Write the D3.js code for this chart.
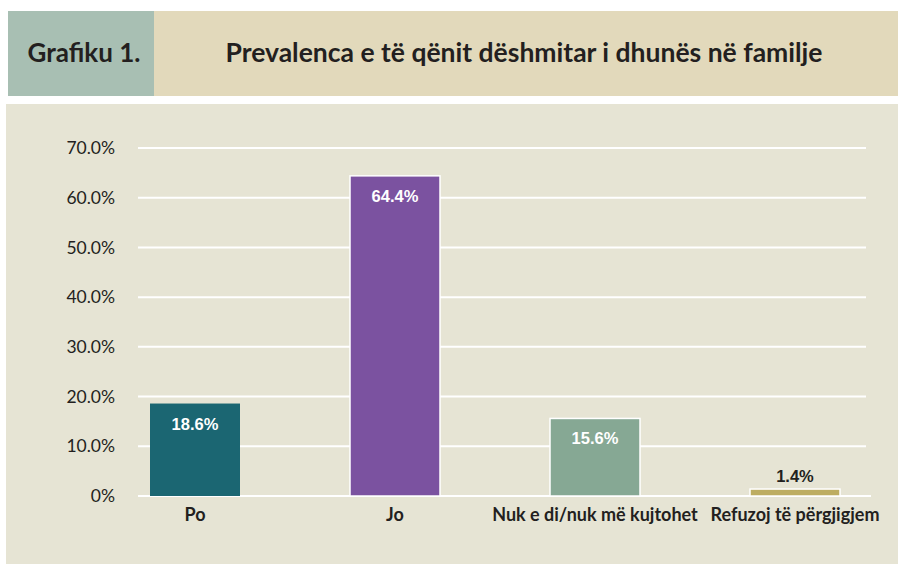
<!DOCTYPE html>
<html>
<head>
<meta charset="utf-8">
<script src="https://cdn.jsdelivr.net/npm/d3@7"></script>
<style>
  body { margin: 0; background: #ffffff; }
  svg { display: block; }
</style>
</head>
<body>
<div id="chart"></div>
<script>
// Data
const categories = ['Po', 'Jo', 'Nuk e di/nuk më kujtohet', 'Refuzoj të përgjigjem'];
const values = [18.6, 64.4, 15.6, 1.4];
const barColors = ['#1b6672', '#7b52a0', '#86a894', '#bdad62'];
const tickValues = [0, 10, 20, 30, 40, 50, 60, 70];
const chartNumber = 'Grafiku 1.';
const chartTitle = 'Prevalenca e të qënit dëshmitar i dhunës në familje';

const width = 898;
const height = 564;
const labelFont = 'Lato, "Open Sans", sans-serif';

const svg = d3.select('#chart')
    .append('svg')
    .attr('width', width)
    .attr('height', height);

// Header boxes
svg.append('rect')
    .attr('x', 8).attr('y', 11)
    .attr('width', 146).attr('height', 85)
    .attr('fill', '#a8bfb3');

svg.append('rect')
    .attr('x', 154).attr('y', 11)
    .attr('width', width - 154).attr('height', 85)
    .attr('fill', '#e2d9bb');

svg.append('text')
    .attr('x', 84).attr('y', 62)
    .attr('text-anchor', 'middle')
    .style('font-family', labelFont)
    .style('font-weight', 'bold')
    .style('font-size', '26px')
    .style('fill', '#231f20')
    .text(chartNumber);

svg.append('text')
    .attr('x', 524).attr('y', 62)
    .attr('text-anchor', 'middle')
    .style('font-family', labelFont)
    .style('font-weight', 'bold')
    .style('font-size', '26.5px')
    .style('fill', '#231f20')
    .text(chartTitle);

// Chart panel
svg.append('rect')
    .attr('x', 6).attr('y', 104)
    .attr('width', width - 6).attr('height', 460)
    .attr('fill', '#e6e4d4');

const plot = { left: 138, right: 866, top: 148, bottom: 496 };

const x = d3.scaleBand()
    .domain(categories)
    .range([130, 860])
    .paddingInner(0.55)
    .paddingOuter(0.1);

const y = d3.scaleLinear()
    .domain([0, 70])
    .range([plot.bottom, plot.top]);

// Gridlines
svg.append('g')
    .selectAll('line')
    .data(tickValues)
    .join('line')
    .attr('x1', plot.left)
    .attr('x2', d => d === 0 ? plot.right + 5 : plot.right)
    .attr('y1', d => y(d))
    .attr('y2', d => y(d))
    .attr('stroke', '#ffffff')
    .attr('stroke-width', 2);

// Y axis labels
const yAxis = svg.append('g')
    .attr('transform', `translate(${plot.left - 23},0)`)
    .call(d3.axisLeft(y)
        .tickValues(tickValues)
        .tickSize(0)
        .tickPadding(0)
        .tickFormat(d => d === 0 ? '0%' : d3.format('.1f')(d) + '%'));

yAxis.select('.domain').remove();
yAxis.selectAll('text')
    .style('font-family', labelFont)
    .style('font-size', '17.5px')
    .style('fill', '#231f20');

// Bars
svg.append('g')
    .selectAll('rect')
    .data(values)
    .join('rect')
    .attr('x', (d, i) => x(categories[i]))
    .attr('y', d => y(d))
    .attr('width', x.bandwidth())
    .attr('height', d => y(0) - y(d))
    .attr('fill', (d, i) => barColors[i])
    .attr('stroke', (d, i) => i === 0 ? 'none' : '#ffffff')
    .attr('stroke-width', 1.5);

// Value labels, inside the bar when it is tall enough
svg.append('g')
    .selectAll('text')
    .data(values)
    .join('text')
    .attr('x', (d, i) => x(categories[i]) + x.bandwidth() / 2)
    .attr('y', d => (y(0) - y(d) > 30) ? y(d) + 26 : y(d) - 7)
    .attr('text-anchor', 'middle')
    .style('font-family', '"Liberation Sans", Arial, sans-serif')
    .style('font-weight', 'bold')
    .style('font-size', '16.5px')
    .style('fill', d => (y(0) - y(d) > 30) ? '#ffffff' : '#231f20')
    .text(d => d3.format('.1f')(d) + '%');

// Category labels
svg.append('g')
    .selectAll('text')
    .data(categories)
    .join('text')
    .attr('x', d => x(d) + x.bandwidth() / 2)
    .attr('y', plot.bottom + 25)
    .attr('text-anchor', 'middle')
    .style('font-family', labelFont)
    .style('font-weight', 'bold')
    .style('font-size', '18px')
    .style('fill', '#231f20')
    .text(d => d);
</script>
</body>
</html>
